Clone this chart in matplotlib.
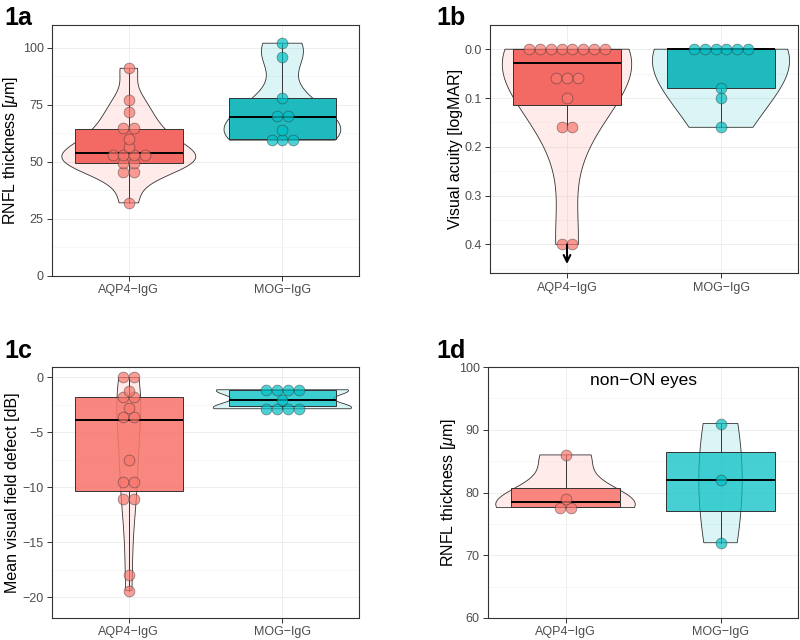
import numpy as np
import matplotlib
matplotlib.use("Agg")
import matplotlib.pyplot as plt
from matplotlib.colors import to_rgba

plt.rcParams["font.family"] = ["Liberation Sans", "DejaVu Sans"]
plt.rcParams["mathtext.fontset"] = "custom"
plt.rcParams["mathtext.rm"] = "Liberation Sans"
plt.rcParams["mathtext.it"] = "Liberation Sans:italic"

RED = "#F8766D"
TEAL = "#00BFC4"

groups = ["AQP4\u2212IgG", "MOG\u2212IgG"]

# 1a: RNFL thickness
a_aqp4 = [91, 77, 72, 65, 65, 60, 56.5, 53, 53, 53, 53, 49.5, 49.5, 45.5, 45.5, 32]
a_mog = [102, 96, 78, 70, 70, 64, 59.5, 59.5, 59.5]
# q1, median, q3, whisker low, whisker high
a_box_aqp4 = [49.6, 53.9, 64.4, 32, 91]
a_box_mog = [60, 69.8, 77.8, 59.5, 102]

# 1b: visual acuity
b_aqp4 = [0, 0, 0, 0, 0, 0, 0, 0, 0.06, 0.06, 0.06, 0.10, 0.16, 0.16, 0.40, 0.40]
b_mog = [0, 0, 0, 0, 0, 0, 0.08, 0.10, 0.16]
b_box_aqp4 = [0, 0.029, 0.115, 0, 0.16]
b_box_mog = [0, 0, 0.08, 0, 0.16]
b_arrow = [0.40, 0.44]

# 1c: mean visual field defect
c_aqp4 = [0, 0, -1.2, -1.8, -1.8, -2.8, -3.6, -3.6, -7.55, -9.5, -9.5, -11.1, -11.1, -18.0, -19.4]
c_mog = [-1.12, -1.12, -1.12, -1.12, -2.09, -2.85, -2.85, -2.85, -2.85]
c_box_aqp4 = [-10.35, -3.88, -1.76, -19.4, 0]
c_box_mog = [-2.64, -2.09, -1.15, -2.85, -1.12]

# 1d: RNFL thickness, non-ON eyes
d_aqp4 = [86, 79, 77.6, 77.6]
d_mog = [91, 82, 72]
d_box_aqp4 = [77.7, 78.45, 80.65, 77.6, 86]
d_box_mog = [77.0, 82.0, 86.45, 72, 91]


def bw_nrd0(x):
    x = np.asarray(x, float)
    sd = np.std(x, ddof=1)
    iqr = np.percentile(x, 75) - np.percentile(x, 25)
    lo = min(sd, iqr / 1.34)
    if lo == 0:
        lo = sd or abs(x[0]) or 1
    return 0.9 * lo * len(x) ** -0.2


def kde(x, adjust):
    x = np.asarray(x, float)
    bw = bw_nrd0(x) * adjust
    grid = np.linspace(x.min(), x.max(), 512)
    dens = np.exp(-0.5 * ((grid[:, None] - x[None, :]) / bw) ** 2).sum(axis=1)
    return grid, dens / dens.max()


def violins(ax, datasets, colors, widths, adjusts):
    for pos, d, col, half, adj in zip([1, 2], datasets, colors, widths, adjusts):
        grid, dens = kde(d, adj)
        w = half * dens
        xs = np.concatenate([pos - w, (pos + w)[::-1]])
        ys = np.concatenate([grid, grid[::-1]])
        ax.fill(xs, ys, facecolor=to_rgba(col, 0.14),
                edgecolor="#333333", lw=0.6, zorder=1)


def boxes(ax, stats, colors, alphas):
    for pos, st, col, al in zip([1, 2], stats, colors, alphas):
        q1, med, q3, lo, hi = st
        ax.bxp([dict(q1=q1, med=med, q3=q3, whislo=lo, whishi=hi, fliers=[])],
               positions=[pos], widths=0.7, patch_artist=True, showcaps=False,
               boxprops=dict(facecolor=to_rgba(col, al), edgecolor="#333333", lw=0.7),
               medianprops=dict(color="black", lw=1.4),
               whiskerprops=dict(color="#333333", lw=0.7), zorder=2)


def dots(ax, datasets, colors):
    for pos, d, col in zip([1, 2], datasets, colors):
        vals, counts = np.unique(d, return_counts=True)
        for v, n in zip(vals, counts):
            xs = pos + (np.arange(n) - (n - 1) / 2) * 0.07
            ax.scatter(xs, [v] * n, s=60, facecolor=to_rgba(col, 0.7),
                       edgecolor=(0.2, 0.2, 0.2, 0.5), lw=0.6, zorder=3)


def style(ax, ticks, minor, ylim, ylabel, lab_x, fmt=None):
    ax.set_xlim(0.5, 2.5)
    ax.set_ylim(*ylim)
    ax.set_xticks([1, 2])
    ax.set_xticklabels(groups)
    ax.set_yticks(ticks)
    if fmt:
        ax.set_yticklabels([fmt.format(t) for t in ticks])
    ax.set_yticks(minor, minor=True)
    ax.tick_params(axis="y", which="minor", length=0)
    ax.grid(True, which="major", color="#EBEBEB", lw=0.6)
    ax.grid(True, which="minor", axis="y", color="#F2F2F2", lw=0.4)
    ax.set_axisbelow(True)
    for sp in ax.spines.values():
        sp.set_color("#333333")
        sp.set_linewidth(0.8)
    ax.tick_params(which="major", length=3.5, width=0.7, color="#333333",
                   labelcolor="#4D4D4D", labelsize=9, pad=2.5)
    ax.set_ylabel(ylabel, fontsize=11.5)
    ax.yaxis.set_label_coords(lab_x, 0.5)


fig = plt.figure(figsize=(8, 6.4), dpi=100)
ax_a = fig.add_axes([0.065, 0.569, 0.384, 0.392])
ax_b = fig.add_axes([0.6125, 0.573, 0.385, 0.3875])
ax_c = fig.add_axes([0.065, 0.0344, 0.384, 0.392])
ax_d = fig.add_axes([0.61, 0.0344, 0.3875, 0.392])

colors = [RED, TEAL]
top_colors = ["#F36A64", "#1FBABE"]

# 1a
violins(ax_a, [a_aqp4, a_mog], colors, [0.436, 0.38], [1.0, 1.0])
boxes(ax_a, [a_box_aqp4, a_box_mog], top_colors, [1.0, 1.0])
dots(ax_a, [a_aqp4, a_mog], colors)
style(ax_a, [0, 25, 50, 75, 100], [12.5, 37.5, 62.5, 87.5], (0, 110),
      r"RNFL thickness [$\mu$m]", -0.104)

# 1b
violins(ax_b, [b_aqp4, b_mog], colors, [0.42, 0.445], [2.1, 2.5])
boxes(ax_b, [b_box_aqp4, b_box_mog], top_colors, [1.0, 1.0])
dots(ax_b, [b_aqp4, b_mog], colors)
ax_b.annotate("", xy=(1, b_arrow[1]), xytext=(1, b_arrow[0]),
              arrowprops=dict(arrowstyle="->", color="black", lw=1.5,
                              shrinkA=0, shrinkB=0, mutation_scale=12), zorder=4)
style(ax_b, [0.0, 0.1, 0.2, 0.3, 0.4], [0.05, 0.15, 0.25, 0.35, 0.45],
      (0.459, -0.049), "Visual acuity [logMAR]", -0.088, fmt="{:.1f}")

# 1c
violins(ax_c, [c_aqp4, c_mog], colors, [0.078, 0.45], [1.1, 1.1])
boxes(ax_c, [c_box_aqp4, c_box_mog], colors, [0.88, 0.72])
dots(ax_c, [c_aqp4, c_mog], colors)
style(ax_c, [-20, -15, -10, -5, 0], [-17.5, -12.5, -7.5, -2.5], (-21.9, 0.94),
      "Mean visual field defect [dB]", -0.104)

# 1d
violins(ax_d, [d_aqp4, d_mog], colors, [0.45, 0.14], [1.8, 1.8])
boxes(ax_d, [d_box_aqp4, d_box_mog], colors, [0.86, 0.72])
dots(ax_d, [d_aqp4, d_mog], colors)
style(ax_d, [60, 70, 80, 90, 100], [65, 75, 85, 95], (60, 100),
      r"RNFL thickness [$\mu$m]", -0.097)
ax_d.text(1.5, 97.9, "non\u2212ON eyes", ha="center", va="center", fontsize=12.5)

for lab, x, y in [("1a", 0.006, 0.961), ("1b", 0.546, 0.961),
                  ("1c", 0.006, 0.441), ("1d", 0.546, 0.441)]:
    fig.text(x, y, lab, fontsize=18, fontweight="bold", va="baseline")

fig.savefig("out.png", dpi=100)
